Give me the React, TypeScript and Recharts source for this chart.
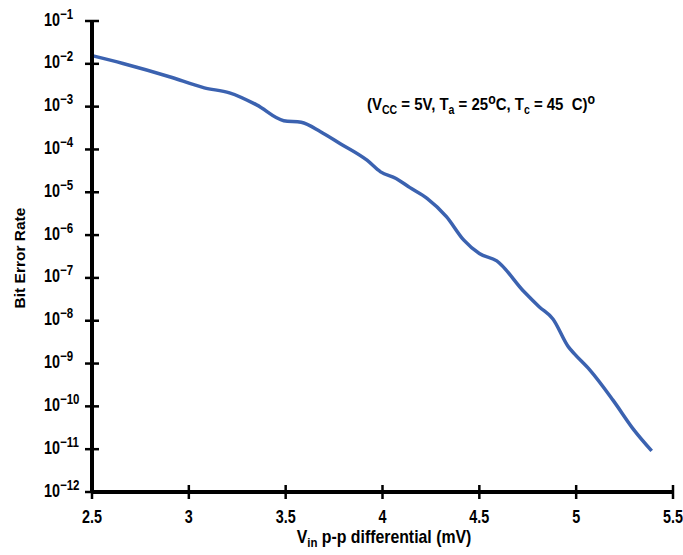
import { LineChart, Line, XAxis, YAxis, Customized } from 'recharts';

// Vin p-p differential (mV) and bit error rate
const vin = [
  2.5, 2.66, 2.9, 3.08, 3.21, 3.35, 3.49, 3.58, 3.68, 3.78, 3.92, 3.99, 4.07, 4.14, 4.23,
  4.33, 4.42, 4.5, 4.59, 4.73, 4.81, 4.88, 4.96, 4.99, 5.07, 5.19, 5.3, 5.39,
];
const ber = [
  1.55e-2, 1.02e-2, 5.0e-3, 2.75e-3, 2.1e-3, 1.1e-3, 4.7e-4, 4.3e-4, 2.6e-4, 1.38e-4, 5.6e-5,
  3.0e-5, 2.1e-5, 1.3e-5, 7.2e-6, 2.7e-6, 7.6e-7, 3.7e-7, 2.5e-7, 4.8e-8, 2.1e-8, 1.1e-8,
  2.45e-9, 1.7e-9, 7.1e-10, 1.4e-10, 2.75e-11, 9.1e-12,
];
const xTicks = [2.5, 3, 3.5, 4, 4.5, 5, 5.5];
const yTicks = [1e-1, 1e-2, 1e-3, 1e-4, 1e-5, 1e-6, 1e-7, 1e-8, 1e-9, 1e-10, 1e-11, 1e-12];

const data = vin.map((v, i) => ({ vin: v, ber: ber[i] }));

const FONT = '"Liberation Sans", Arial, sans-serif';

// bold text squeezed horizontally to look like a narrow face
function NText({ x, y, size, sx = 0.82, anchor = 'start', children }: any) {
  return (
    <g transform={`translate(${x}, ${y}) scale(${sx}, 1)`}>
      <text
        x={0}
        y={0}
        textAnchor={anchor}
        fontFamily={FONT}
        fontWeight="bold"
        fontSize={size}
        fill="#000"
        style={{ whiteSpace: 'pre' }}
      >
        {children}
      </text>
    </g>
  );
}

function YTick(props: any) {
  const { x, y, payload } = props;
  const exp = Math.round(Math.log10(payload.value));
  return (
    <g>
      <line x1={x - 7} x2={x + 7} y1={y} y2={y} stroke="#000" strokeWidth={2.5} />
      <NText x={x - 48} y={y + 4.5} size={17.5}>
        10
        <tspan dy={-7} fontSize={14}>
          {'\u2212' + Math.abs(exp)}
        </tspan>
      </NText>
    </g>
  );
}

function XTick(props: any) {
  const { x, y, payload } = props;
  return (
    <g>
      <line x1={x} x2={x} y1={y - 7} y2={y + 7} stroke="#000" strokeWidth={2.5} />
      <NText x={x} y={y + 31} size={17.5} anchor="middle">
        {payload.value}
      </NText>
    </g>
  );
}

function Labels() {
  return (
    <g>
      <NText x={384} y={543} size={18} sx={0.88} anchor="middle">
        V<tspan dy={4} fontSize={13}>in</tspan>
        <tspan dy={-4}> p-p differential (mV)</tspan>
      </NText>
      <text
        transform="translate(24.5, 258) rotate(-90)"
        textAnchor="middle"
        fontFamily={FONT}
        fontWeight="bold"
        fontSize={15.5}
        fill="#000"
      >
        Bit Error Rate
      </text>
      <NText x={367} y={110} size={17} sx={0.88}>
        (V<tspan dy={4} fontSize={12}>CC</tspan>
        <tspan dy={-4}> = 5V, T</tspan>
        <tspan dy={4} fontSize={12}>a</tspan>
        <tspan dy={-4}> = 25</tspan>
        <tspan dy={-6} fontSize={14}>o</tspan>
        <tspan dy={6}>C, T</tspan>
        <tspan dy={4} fontSize={12}>c</tspan>
        <tspan dy={-4}>{' = 45  C)'}</tspan>
        <tspan dy={-6} fontSize={14}>o</tspan>
      </NText>
    </g>
  );
}

export default function App() {
  return (
    <div style={{ position: 'absolute', left: 0, top: 0, background: '#fff' }}>
      <LineChart width={683} height={555} data={data} margin={{ top: 21, right: 10, bottom: 0, left: 0 }}>
        <XAxis
          dataKey="vin"
          type="number"
          domain={[2.5, 5.5]}
          ticks={xTicks}
          height={63}
          tickSize={0}
          tickMargin={0}
          tick={<XTick />}
          axisLine={{ stroke: '#000', strokeWidth: 4 }}
          interval={0}
        />
        <YAxis
          dataKey="ber"
          scale="log"
          domain={[1e-12, 1e-1]}
          ticks={yTicks}
          width={92}
          tickSize={0}
          tickMargin={0}
          tick={<YTick />}
          axisLine={{ stroke: '#000', strokeWidth: 4 }}
          interval={0}
        />
        <Line
          dataKey="ber"
          type="monotone"
          stroke="#3b62b0"
          strokeWidth={3.5}
          dot={false}
          isAnimationActive={false}
        />
        <Customized component={Labels} />
      </LineChart>
    </div>
  );
}
